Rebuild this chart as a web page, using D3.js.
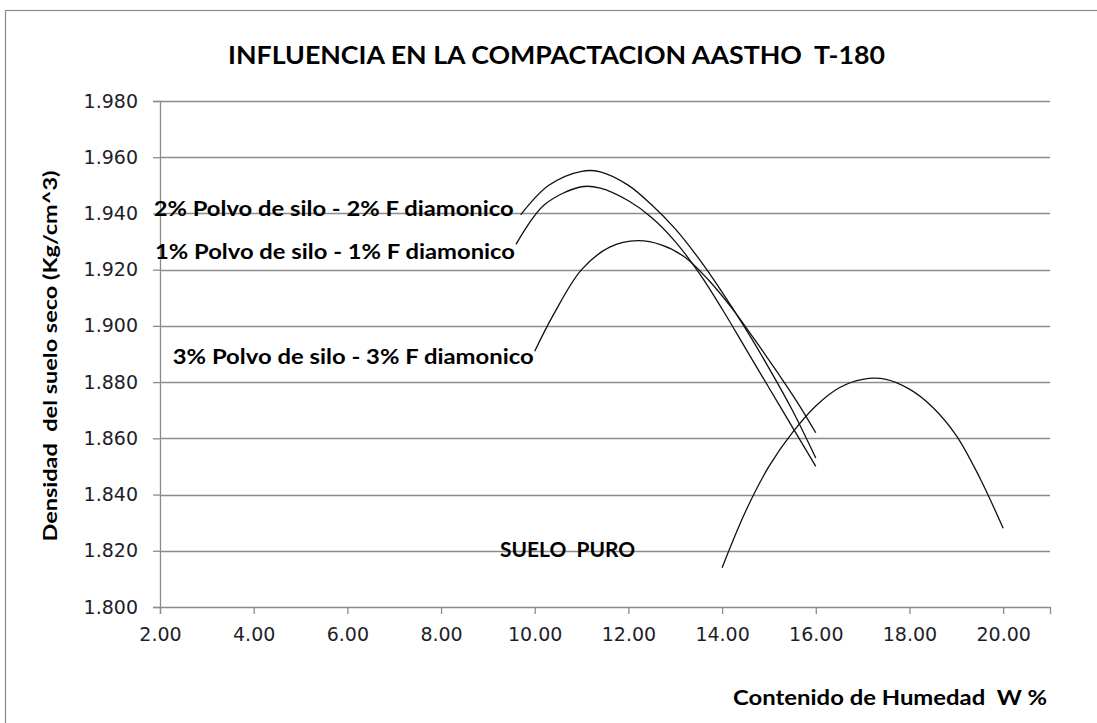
<!DOCTYPE html>
<html>
<head>
<meta charset="utf-8">
<script src="https://cdnjs.cloudflare.com/ajax/libs/d3/7.8.5/d3.min.js"></script>
<style>
  body { margin: 0; background: #fff; }
  svg { display: block; }
  text { white-space: pre; }
</style>
</head>
<body>
<div id="chart"></div>
<script>
// Axis ticks
const xTicks = [2, 4, 6, 8, 10, 12, 14, 16, 18, 20];
const yTicks = [1.80, 1.82, 1.84, 1.86, 1.88, 1.90, 1.92, 1.94, 1.96, 1.98];

// Series (humedad %, densidad)
const mix1X = [9.6, 10.2, 11.0, 11.4, 12.0, 12.5, 13.0, 13.5, 14.0, 14.5, 15.0, 15.5, 16.0];
const mix1Y = [1.929, 1.943, 1.9495, 1.949, 1.9445, 1.9385, 1.930, 1.919, 1.906, 1.892, 1.878, 1.864, 1.850];

const mix2X = [9.7, 10.3, 11.0, 11.4, 12.0, 12.5, 13.0, 13.5, 14.0, 14.5, 15.0, 15.5, 16.0];
const mix2Y = [1.9395, 1.950, 1.955, 1.9548, 1.950, 1.943, 1.9345, 1.924, 1.912, 1.899, 1.885, 1.870, 1.853];

const mix3X = [10.0, 10.4, 11.0, 11.6, 12.2, 12.7, 13.2, 13.7, 14.2, 14.7, 15.2, 15.6, 16.0];
const mix3Y = [1.891, 1.904, 1.920, 1.928, 1.9303, 1.9288, 1.9245, 1.9165, 1.9065, 1.895, 1.883, 1.873, 1.862];

const sueloX = [14, 14.5, 15, 15.5, 16, 16.5, 17, 17.5, 18, 18.5, 19, 19.5, 20];
const sueloY = [1.814, 1.834, 1.850, 1.862, 1.8715, 1.878, 1.881, 1.881, 1.8775, 1.871, 1.861, 1.846, 1.828];

const seriesNames = [
  '2% Polvo de silo - 2% F diamonico',
  '1% Polvo de silo - 1% F diamonico',
  '3% Polvo de silo - 3% F diamonico',
  'SUELO  PURO'
];

const W = 1097, H = 723;
const FONT = 'Lato, "Open Sans", sans-serif';

const svg = d3.select('#chart').append('svg')
  .attr('width', W)
  .attr('height', H);

// Chart frame (continues past right and bottom edges)
svg.append('rect')
  .attr('x', 5.5).attr('y', 10.5)
  .attr('width', W + 20).attr('height', H + 20)
  .attr('fill', 'none')
  .attr('stroke', '#8a8a8a')
  .attr('stroke-width', 1.2);

const x = d3.scaleLinear().domain([2, 21]).range([160, 1050]);
const y = d3.scaleLinear().domain([1.80, 1.98]).range([607, 101]);

// Gridlines
svg.append('g')
  .selectAll('line')
  .data(yTicks.slice(1))
  .join('line')
  .attr('x1', x(2)).attr('x2', x(21))
  .attr('y1', d => Math.round(y(d)) + 0.5)
  .attr('y2', d => Math.round(y(d)) + 0.5)
  .attr('stroke', '#8c8c8c')
  .attr('stroke-width', 1.3);

// Y axis
const yAxis = svg.append('g')
  .attr('transform', `translate(${x(2)},0)`)
  .call(d3.axisLeft(y).tickValues(yTicks).tickFormat(d3.format('.3f')).tickSize(7).tickPadding(15));

// X axis
const xAxis = svg.append('g')
  .attr('transform', `translate(0,${y(1.80)})`)
  .call(d3.axisBottom(x).tickValues(xTicks).tickFormat(d3.format('.2f')).tickSize(7).tickPadding(13));

[yAxis, xAxis].forEach(ax => {
  ax.select('.domain').attr('stroke', '#8c8c8c').attr('stroke-width', 1.3);
  ax.selectAll('.tick line').attr('stroke', '#8c8c8c').attr('stroke-width', 1.3);
  ax.selectAll('.tick text')
    .attr('fill', '#1e1e28')
    .attr('font-size', '19px')
    .attr('font-family', '"DejaVu Sans", sans-serif');
});
xAxis.selectAll('.tick text').attr('dy', '0.75em');

// Curves
const line = d3.line()
  .x(d => x(d[0]))
  .y(d => y(d[1]))
  .curve(d3.curveCatmullRom.alpha(0.5));

const series = [
  d3.zip(mix2X, mix2Y),
  d3.zip(mix1X, mix1Y),
  d3.zip(mix3X, mix3Y),
  d3.zip(sueloX, sueloY)
];

svg.append('g')
  .selectAll('path')
  .data(series)
  .join('path')
  .attr('d', line)
  .attr('fill', 'none')
  .attr('stroke', '#111')
  .attr('stroke-width', 1.3);

// Series labels, placed relative to the first point of each curve
const labelOffsets = [
  { dx: -7, dy: 1, len: 360, size: 20 },
  { dx: -1, dy: 15, len: 360, size: 20 },
  { dx: -1, dy: 13, len: 361, size: 20 },
  { dx: -87, dy: -11, len: 135, size: 21 }
];

series.forEach((s, i) => {
  const o = labelOffsets[i];
  svg.append('text')
    .attr('x', x(s[0][0]) + o.dx)
    .attr('y', y(s[0][1]) + o.dy)
    .attr('text-anchor', 'end')
    .attr('font-family', FONT)
    .attr('font-weight', 700)
    .attr('font-size', o.size + 'px')
    .attr('textLength', o.len)
    .attr('lengthAdjust', 'spacingAndGlyphs')
    .attr('fill', '#000')
    .text(seriesNames[i]);
});

// Title
svg.append('text')
  .attr('x', 228).attr('y', 64)
  .attr('font-family', FONT)
  .attr('font-weight', 700)
  .attr('font-size', '24px')
  .attr('textLength', 657)
  .attr('lengthAdjust', 'spacingAndGlyphs')
  .attr('fill', '#000')
  .text('INFLUENCIA EN LA COMPACTACION AASTHO  T-180');

// Axis titles
svg.append('text')
  .attr('transform', 'translate(57,356) rotate(-90)')
  .attr('text-anchor', 'middle')
  .attr('font-family', FONT)
  .attr('font-weight', 700)
  .attr('font-size', '19px')
  .attr('textLength', 371)
  .attr('lengthAdjust', 'spacingAndGlyphs')
  .attr('fill', '#000')
  .text('Densidad  del suelo seco (Kg/cm^3)');

svg.append('text')
  .attr('x', 1047).attr('y', 705)
  .attr('text-anchor', 'end')
  .attr('font-family', FONT)
  .attr('font-weight', 700)
  .attr('font-size', '20px')
  .attr('textLength', 314)
  .attr('lengthAdjust', 'spacingAndGlyphs')
  .attr('fill', '#000')
  .text('Contenido de Humedad  W %');
</script>
</body>
</html>
